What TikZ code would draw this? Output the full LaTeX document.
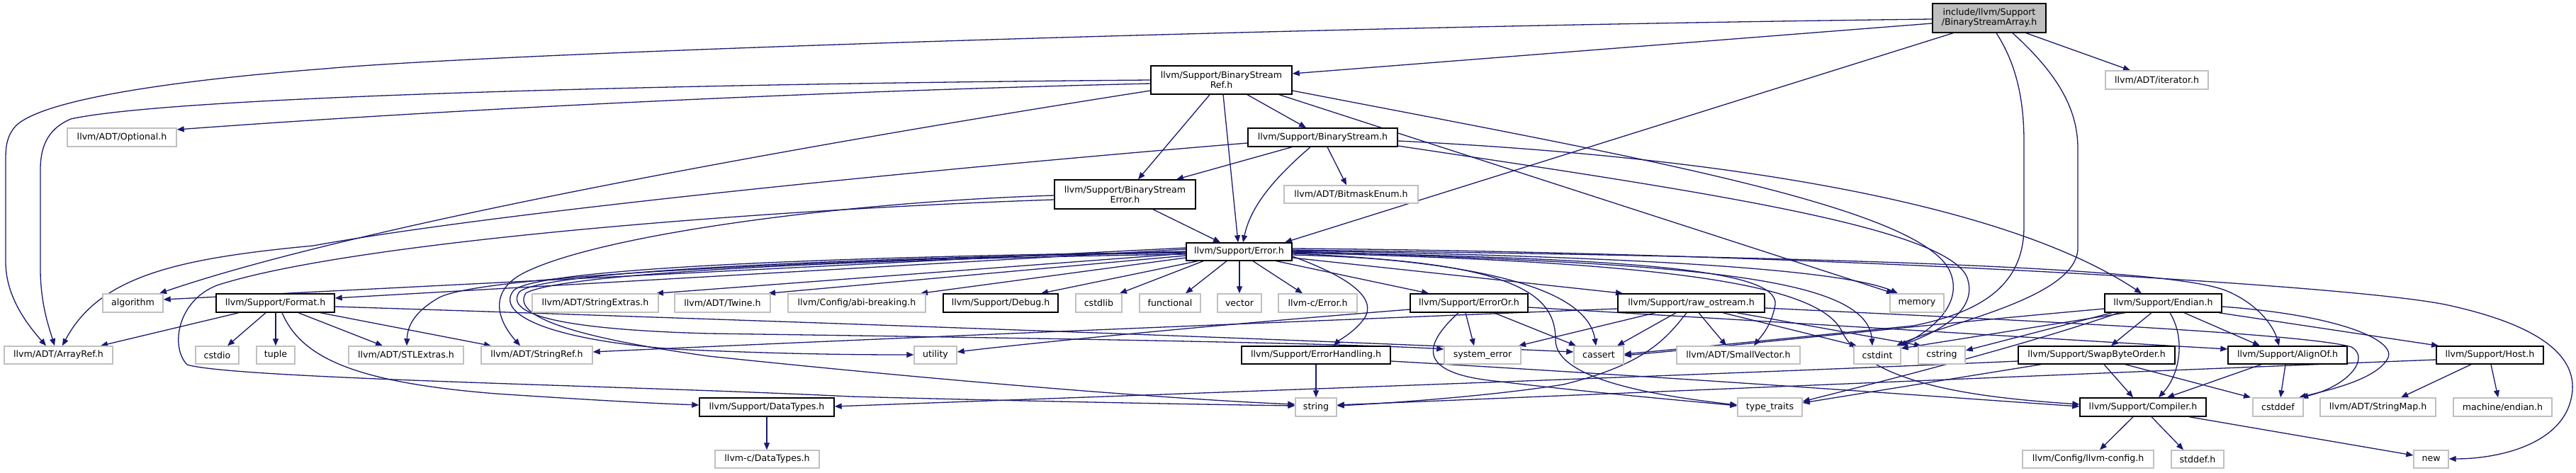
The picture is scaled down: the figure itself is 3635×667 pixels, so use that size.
\documentclass[tikz,border=0pt]{standalone}
\usepackage{fontspec}
\setmainfont{DejaVu Sans}
\usetikzlibrary{arrows.meta}
\pgfdeclarelayer{edgelayer}
\pgfsetlayers{edgelayer,main}
\definecolor{edgecol}{HTML}{191970}
\definecolor{extgray}{HTML}{C0C0C0}
\definecolor{rootgray}{HTML}{BFBFBF}
\newcommand{\nd}[7]{\node[#2, minimum width={#4-#3}, minimum height={#6-#5}] (#1) at ({(#3+#4)/2},{(#5+#6)/2}) {#7};}
\tikzset{
  basebox/.style={rectangle, inner sep=0pt, fill=white, align=center, font=\fontsize{12.6}{14}\selectfont, text=black},
  docbox/.style={basebox, draw=black, line width=1.4pt},
  extbox/.style={basebox, draw=extgray, line width=1.4pt},
  rootbox/.style={basebox, draw=black, line width=1.4pt, fill=rootgray},
  dep/.style={draw=edgecol, line width=1.3pt, -{Triangle[length=10pt,width=8pt]}, fill=none},
}
\begin{document}
\begin{tikzpicture}[x=1pt,y=-1pt]
\useasboundingbox (0,0) rectangle (3635,667);
% row 0-4
\nd{root}{rootbox}{2727}{2887}{5}{46}{include/llvm/Support\\/BinaryStreamArray.h}
\nd{iter}{extbox}{2971}{3116}{100}{126}{llvm/ADT/iterator.h}
\nd{bsref}{docbox}{1624}{1823}{93}{133}{llvm/Support/BinaryStream\\Ref.h}
\nd{bs}{docbox}{1761}{1972}{181}{207}{llvm/Support/BinaryStream.h}
\nd{opt}{extbox}{95}{249}{181}{207}{llvm/ADT/Optional.h}
\nd{bserr}{docbox}{1488}{1687}{254}{295}{llvm/Support/BinaryStream\\Error.h}
\nd{bitmask}{extbox}{1812}{2001}{262}{287}{llvm/ADT/BitmaskEnum.h}
\nd{err}{docbox}{1674}{1823}{343}{368}{llvm/Support/Error.h}
% row 5
\nd{alg}{extbox}{145}{230}{415}{441}{algorithm}
\nd{fmt}{docbox}{305}{472}{415}{441}{llvm/Support/Format.h}
\nd{strext}{extbox}{751}{929}{415}{441}{llvm/ADT/StringExtras.h}
\nd{twine}{extbox}{952}{1087}{415}{441}{llvm/ADT/Twine.h}
\nd{abi}{extbox}{1112}{1306}{415}{441}{llvm/Config/abi-breaking.h}
\nd{debug}{docbox}{1331}{1493}{415}{441}{llvm/Support/Debug.h}
\nd{cstdlib}{extbox}{1518}{1583}{415}{441}{cstdlib}
\nd{functional}{extbox}{1608}{1694}{415}{441}{functional}
\nd{vector}{extbox}{1718}{1780}{415}{441}{vector}
\nd{cerr}{extbox}{1804}{1915}{415}{441}{llvm-c/Error.h}
\nd{erroror}{docbox}{1990}{2156}{415}{441}{llvm/Support/ErrorOr.h}
\nd{rawos}{docbox}{2283}{2490}{415}{441}{llvm/Support/raw\_ostream.h}
\nd{memory}{extbox}{2667}{2743}{415}{441}{memory}
\nd{endian}{docbox}{2970}{3135}{415}{441}{llvm/Support/Endian.h}
% row 6
\nd{arrayref}{extbox}{6}{159}{489}{514}{llvm/ADT/ArrayRef.h}
\nd{cstdio}{extbox}{276}{337}{489}{514}{cstdio}
\nd{tuple}{extbox}{362}{416}{489}{514}{tuple}
\nd{stlext}{extbox}{492}{654}{489}{514}{llvm/ADT/STLExtras.h}
\nd{strref}{extbox}{679}{836}{489}{514}{llvm/ADT/StringRef.h}
\nd{utility}{extbox}{1290}{1350}{489}{514}{utility}
\nd{errh}{docbox}{1752}{1962}{489}{514}{llvm/Support/ErrorHandling.h}
\nd{syserr}{extbox}{2038}{2146}{489}{514}{system\_error}
\nd{cassert}{extbox}{2221}{2291}{489}{514}{cassert}
\nd{smallvec}{extbox}{2366}{2540}{489}{514}{llvm/ADT/SmallVector.h}
\nd{cstdint}{extbox}{2616}{2682}{489}{514}{cstdint}
\nd{cstring}{extbox}{2707}{2773}{489}{514}{cstring}
\nd{swap}{docbox}{2848}{3069}{489}{514}{llvm/Support/SwapByteOrder.h}
\nd{alignof}{docbox}{3144}{3312}{489}{514}{llvm/Support/AlignOf.h}
\nd{host}{docbox}{3438}{3589}{489}{514}{llvm/Support/Host.h}
% row 7
\nd{datatypes}{docbox}{987}{1177}{562}{588}{llvm/Support/DataTypes.h}
\nd{string}{extbox}{1828}{1886}{562}{588}{string}
\nd{typetraits}{extbox}{2452}{2543}{562}{588}{type\_traits}
\nd{compiler}{docbox}{2935}{3113}{562}{588}{llvm/Support/Compiler.h}
\nd{cstddef}{extbox}{3179}{3250}{562}{588}{cstddef}
\nd{stringmap}{extbox}{3274}{3437}{562}{588}{llvm/ADT/StringMap.h}
\nd{mendian}{extbox}{3462}{3601}{562}{588}{machine/endian.h}
% row 8
\nd{cdatatypes}{extbox}{1009}{1156}{636}{661}{llvm-c/DataTypes.h}
\nd{llvmconfig}{extbox}{2854}{3039}{636}{661}{llvm/Config/llvm-config.h}
\nd{stddef}{extbox}{3064}{3138}{636}{661}{stddef.h}
\nd{new}{extbox}{3406}{3455}{636}{661}{new}

\begin{pgfonlayer}{edgelayer}
% root
\draw[dep] (root.west |- 0,33) -- (bsref.east |- 0,104);
\draw[dep] (root.west |- 0,27) .. controls (1800,38) and (700,75) .. (459,97) .. controls (250,113) and (60,140) .. (22,178) .. controls (10,192) and (8,205) .. (8,225) -- (8,370) .. controls (8,420) and (40,460) .. (65,0 |- arrayref.north);
\draw[dep] (2756,0 |- root.south) -- (1813,0 |- err.north);
\draw[dep] (2859,0 |- root.south) -- (3006,0 |- iter.north);
\draw[dep] (2817,0 |- root.south) .. controls (2845,90) and (2856,140) .. (2856,200) -- (2856,320) .. controls (2856,400) and (2800,440) .. (2700,460) .. controls (2500,480) and (2380,492) .. (cassert.east |- 0,500);
\draw[dep] (2840,0 |- root.south) .. controls (2910,110) and (2932,160) .. (2932,210) -- (2932,350) .. controls (2932,420) and (2750,455) .. (2676,0 |- cstdint.north);
% bsref
\draw[dep] (bsref.west |- 0,118) .. controls (1200,128) and (700,150) .. (opt.east |- 0,183);
\draw[dep] (bsref.west |- 0,113) .. controls (1000,118) and (250,135) .. (100,168) .. controls (65,183) and (57,210) .. (57,240) -- (57,380) .. controls (57,430) and (70,465) .. (77,0 |- arrayref.north);
\draw[dep] (bsref.west |- 0,128) .. controls (1100,210) and (500,320) .. (225,0 |- alg.north);
\draw[dep] (1707,0 |- bsref.south) -- (1606,0 |- bserr.north);
\draw[dep] (1726,0 |- bsref.south) -- (1747,0 |- err.north);
\draw[dep] (1760,0 |- bsref.south) -- (1843,0 |- bs.north);
\draw[dep] (1805,0 |- bsref.south) -- (2672,0 |- memory.north);
\draw[dep] (bsref.east |- 0,128) .. controls (2300,220) and (2700,290) .. (2750,380) .. controls (2775,430) and (2720,470) .. (2680,0 |- cstdint.north);
% bs
\draw[dep] (bs.west |- 0,202) .. controls (1300,240) and (700,300) .. (442,347) .. controls (250,365) and (140,390) .. (88,0 |- arrayref.north);
\draw[dep] (1823,0 |- bs.south) -- (1660,0 |- bserr.north);
\draw[dep] (1849,0 |- bs.south) .. controls (1800,250) and (1765,290) .. (1754,0 |- err.north);
\draw[dep] (1873,0 |- bs.south) -- (1900,0 |- bitmask.north);
\draw[dep] (bs.east |- 0,199) .. controls (2500,225) and (2850,300) .. (3022,0 |- endian.north);
\draw[dep] (bs.east |- 0,206) .. controls (2400,270) and (2740,320) .. (2775,390) .. controls (2795,440) and (2730,470) .. (2682,0 |- cstdint.north);
% bserr
\draw[dep] (1627,0 |- bserr.south) -- (1722,0 |- err.north);
\draw[dep] (bserr.west |- 0,276) .. controls (1200,285) and (850,330) .. (740,385) .. controls (690,410) and (700,450) .. (734,0 |- strref.north);
\draw[dep] (bserr.west |- 0,282) .. controls (1100,295) and (500,340) .. (306,403) .. controls (250,425) and (240,490) .. (264,515) .. controls (330,535) and (900,545) .. (1200,560) .. controls (1500,568) and (1750,572) .. (string.west |- 0,573);
% err fan
\draw[dep] (err.west |- 0,352) -- (fmt.east |- 0,421);
\draw[dep] (err.west |- 0,350) -- (alg.east |- 0,423);
\draw[dep] (err.west |- 0,358) -- (926,0 |- strext.north);
\draw[dep] (err.west |- 0,361) -- (1084,0 |- twine.north);
\draw[dep] (err.west |- 0,364) -- (1299,0 |- abi.north);
\draw[dep] (1690,0 |- err.south) -- (1469,0 |- debug.north);
\draw[dep] (1698,0 |- err.south) -- (1580,0 |- cstdlib.north);
\draw[dep] (1731,0 |- err.south) -- (1673,0 |- functional.north);
\draw[dep] (1749,0 |- err.south) -- (1749,0 |- vector.north);
\draw[dep] (1768,0 |- err.south) -- (1838,0 |- cerr.north);
\draw[dep] (1801,0 |- err.south) -- (2016,0 |- erroror.north);
\draw[dep] (err.east |- 0,364) -- (2290,0 |- rawos.north);
\draw[dep] (err.east |- 0,362) .. controls (1900,390) and (1945,420) .. (1925,450) .. controls (1910,470) and (1890,480) .. (1882,0 |- errh.north);
\draw[dep] (err.east |- 0,354) .. controls (2300,362) and (2600,380) .. (2678,0 |- memory.north);
\draw[dep] (err.east |- 0,358) .. controls (2100,370) and (2240,410) .. (2252,0 |- cassert.north);
\draw[dep] (err.east |- 0,360) .. controls (2150,368) and (2195,420) .. (2195,480) .. controls (2195,535) and (2330,558) .. (typetraits.west |- 0,572);
\draw[dep] (err.east |- 0,357) .. controls (2350,370) and (2570,400) .. (2600,470) .. controls (2640,545) and (2800,562) .. (compiler.west |- 0,571);
\draw[dep] (err.east |- 0,356) .. controls (2300,365) and (2510,380) .. (2505,430) .. controls (2500,460) and (2485,475) .. (2475,0 |- smallvec.north);
\draw[dep] (err.east |- 0,355) .. controls (2350,372) and (2635,385) .. (2642,0 |- cstdint.north);
\draw[dep] (err.east |- 0,353) .. controls (2500,362) and (3050,375) .. (3140,410) .. controls (3185,428) and (3208,460) .. (3216,0 |- alignof.north);
\draw[dep] (err.east |- 0,351) .. controls (2500,356) and (3300,400) .. (3450,430) .. controls (3600,462) and (3632,510) .. (3630,550) .. controls (3625,625) and (3530,648) .. (new.east |- 0,648);
% err loops to the left
\draw[dep] (err.west |- 0,355) .. controls (1100,370) and (680,390) .. (620,420) .. controls (585,440) and (575,460) .. (574,0 |- stlext.north);
\draw[dep] (err.west |- 0,356) .. controls (1200,362) and (760,378) .. (725,410) .. controls (700,440) and (760,478) .. (950,493) .. controls (1100,500) and (1200,501) .. (utility.west |- 0,501);
\draw[dep] (err.west |- 0,357) .. controls (1200,364) and (770,382) .. (733,412) .. controls (712,442) and (780,465) .. (1000,471) .. controls (1500,478) and (1900,485) .. (syserr.west |- 0,493);
\draw[dep] (err.west |- 0,359) .. controls (1200,366) and (790,386) .. (742,414) .. controls (722,445) and (800,475) .. (1000,503) .. controls (1400,545) and (1700,566) .. (string.west |- 0,571);
% format
\draw[dep] (337,0 |- fmt.south) -- (142,0 |- arrayref.north);
\draw[dep] (375,0 |- fmt.south) -- (321,0 |- cstdio.north);
\draw[dep] (389,0 |- fmt.south) -- (389,0 |- tuple.north);
\draw[dep] (421,0 |- fmt.south) -- (540,0 |- stlext.north);
\draw[dep] (452,0 |- fmt.south) -- (693,0 |- strref.north);
\draw[dep] (398,0 |- fmt.south) .. controls (425,505) and (500,540) .. (700,556) .. controls (850,566) and (930,570) .. (datatypes.west |- 0,572);
\draw[dep] (fmt.east |- 0,433) .. controls (1000,450) and (1800,478) .. (cassert.west |- 0,497);
% erroror
\draw[dep] (erroror.west |- 0,437) .. controls (1700,460) and (1450,485) .. (utility.east |- 0,497);
\draw[dep] (erroror.east |- 0,434) .. controls (2600,460) and (2950,482) .. (alignof.west |- 0,493);
\draw[dep] (2068,0 |- erroror.south) -- (2080,0 |- syserr.north);
\draw[dep] (2108,0 |- erroror.south) -- (2224,0 |- cassert.north);
\draw[dep] (2058,0 |- erroror.south) .. controls (2005,490) and (2005,525) .. (2100,537) .. controls (2250,555) and (2380,566) .. (typetraits.west |- 0,573);
% raw_ostream
\draw[dep] (rawos.west |- 0,436) .. controls (1800,455) and (1200,480) .. (strref.east |- 0,497);
\draw[dep] (2336,0 |- rawos.south) -- (2143,0 |- syserr.north);
\draw[dep] (2365,0 |- rawos.south) -- (2282,0 |- cassert.north);
\draw[dep] (2380,0 |- rawos.south) .. controls (2350,480) and (2320,515) .. (2206,543) .. controls (2100,560) and (1950,570) .. (string.east |- 0,573);
\draw[dep] (2397,0 |- rawos.south) -- (2436,0 |- smallvec.north);
\draw[dep] (2431,0 |- rawos.south) -- (2620,0 |- cstdint.north);
\draw[dep] (2451,0 |- rawos.south) -- (2711,0 |- cstring.north);
\draw[dep] (rawos.east |- 0,435) .. controls (2800,450) and (3250,470) .. (3318,490) .. controls (3345,505) and (3315,545) .. (3247,0 |- cstddef.north);
% endian
\draw[dep] (3082,0 |- endian.south) -- (3189,0 |- alignof.north);
\draw[dep] (3062,0 |- endian.south) .. controls (3085,480) and (3075,530) .. (3046,0 |- compiler.north);
\draw[dep] (3131,0 |- endian.south) -- (3441,0 |- host.north);
\draw[dep] (3036,0 |- endian.south) -- (2979,0 |- swap.north);
\draw[dep] (endian.east |- 0,433) .. controls (3300,445) and (3380,480) .. (3370,505) .. controls (3355,535) and (3290,550) .. (3244,0 |- cstddef.north);
\draw[dep] (endian.west |- 0,436) .. controls (2700,460) and (2450,488) .. (cassert.east |- 0,502);
\draw[dep] (2999,0 |- endian.south) -- (cstdint.east |- 0,492);
\draw[dep] (2980,0 |- endian.south) -- (cstring.east |- 0,495);
\draw[dep] (2990,0 |- endian.south) .. controls (2850,490) and (2650,540) .. (typetraits.east |- 0,567);
% swap
\draw[dep] (swap.west |- 0,510) .. controls (2400,530) and (1500,562) .. (datatypes.east |- 0,574);
\draw[dep] (2880,0 |- swap.south) -- (typetraits.east |- 0,569);
\draw[dep] (2969,0 |- swap.south) -- (3010,0 |- compiler.north);
\draw[dep] (2999,0 |- swap.south) -- (3176,0 |- cstddef.north);
% alignof
\draw[dep] (3191,0 |- alignof.south) -- (3058,0 |- compiler.north);
\draw[dep] (3225,0 |- alignof.south) -- (3218,0 |- cstddef.north);
% host
\draw[dep] (host.west |- 0,508) .. controls (3000,525) and (2300,555) .. (string.east |- 0,572);
\draw[dep] (3487,0 |- host.south) -- (3388,0 |- stringmap.north);
\draw[dep] (3515,0 |- host.south) -- (3525,0 |- mendian.north);
% errorhandling
\draw[dep] (1857,0 |- errh.south) -- (1857,0 |- string.north);
\draw[dep] (errh.east |- 0,510) .. controls (2400,535) and (2800,565) .. (compiler.west |- 0,574);
% compiler
\draw[dep] (3010,0 |- compiler.south) -- (2963,0 |- llvmconfig.north);
\draw[dep] (3036,0 |- compiler.south) -- (3081,0 |- stddef.north);
\draw[dep] (3089,0 |- compiler.south) -- (new.west |- 0,643);
% datatypes
\draw[dep] (1082,0 |- datatypes.south) -- (1082,0 |- cdatatypes.north);
\end{pgfonlayer}
\end{tikzpicture}
\end{document}
